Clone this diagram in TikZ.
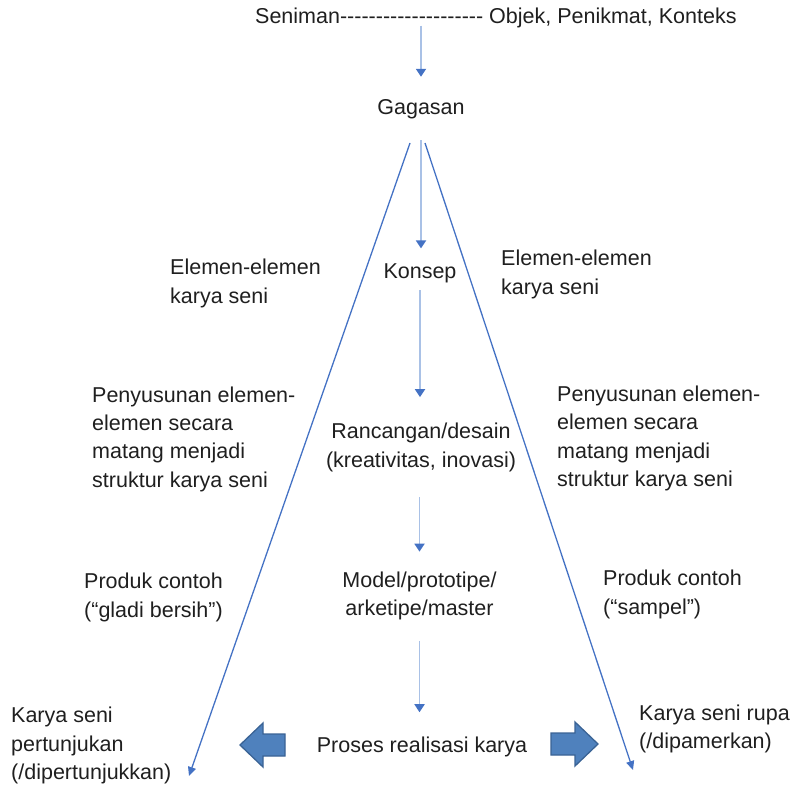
\documentclass[tikz,border=0pt]{standalone}
\usepackage{fontspec}
\setmainfont{Liberation Sans}
\usetikzlibrary{arrows.meta}
\definecolor{linkblue}{HTML}{4472C4}
\definecolor{paleblue}{HTML}{A9C1E6}
\definecolor{blockfill}{HTML}{4F81BD}
\definecolor{blockedge}{HTML}{3A6395}
% a single hyphen that never joins its neighbour into a dash ligature
\newcommand\hh{-\kern0pt}

\begin{document}
\begin{tikzpicture}[x=1pt,y=-1pt,
  every node/.style={font=\fontsize{21.5}{28.3}\selectfont, inner sep=0pt, text=black!88},
  side/.style={align=left, anchor=west},
  stage/.style={align=center},
  varrow/.style={paleblue, line width=1.8pt, -{Triangle[length=8pt,width=10pt,color=linkblue]}},
  darrow/.style={linkblue, line width=1.3pt, -{Triangle[length=9pt,width=8pt]}},
  blockarrow/.style={fill=blockfill, draw=blockedge, line width=1.3pt, line join=miter}
]
\useasboundingbox (0,0) rectangle (797,789);

% header line
\node[anchor=base west] (top) at (255,24)
  {Seniman\hh\hh\hh\hh\hh\hh\hh\hh\hh\hh\hh\hh\hh\hh\hh\hh\hh\hh\hh\hh\ Objek, Penikmat, Konteks};

% central chain of stages
\node[anchor=base] (gagasan) at (421,114) {Gagasan};
\node[anchor=base] (konsep) at (420,278) {Konsep};
\node[stage] (rancangan) at (421,447.5) {Rancangan/desain\\(kreativitas, inovasi)};
\node[stage] (model) at (419.5,596) {Model/prototipe/\\arketipe/master};
\node[anchor=base] (proses) at (422,752) {Proses realisasi karya};

% side notes
\node[side] (elemL) at (170,283.5) {Elemen-elemen\\karya seni};
\node[side] (elemR) at (501,274.5) {Elemen-elemen\\karya seni};
\node[side] (susunL) at (92,439) {Penyusunan elemen-\\elemen secara\\matang menjadi\\struktur karya seni};
\node[side] (susunR) at (557,438.5) {Penyusunan elemen-\\elemen secara\\matang menjadi\\struktur karya seni};
\node[side] (produkL) at (84,597.5) {Produk contoh\\(“gladi bersih”)};
\node[side] (produkR) at (603,594.5) {Produk contoh\\(“sampel”)};
\node[side] (karyaL) at (11,745.5) {Karya seni\\pertunjukan\\(/dipertunjukkan)};
\node[side] (karyaR) at (639,729) {Karya seni rupa\\(/dipamerkan)};

% vertical flow
\draw[varrow, shorten <=-3pt, shorten >=22pt] (gagasan.north |- top.south) -- (gagasan.north);
\draw[varrow, shorten <=21.5pt, shorten >=14.6pt] (gagasan.south) -- (gagasan.south |- konsep.north);
\draw[varrow, shorten <=7.5pt, shorten >=26pt] (konsep.south) -- (konsep.south |- rancangan.north);
\draw[varrow, shorten <=25.5pt, shorten >=20pt] (rancangan.south -| model.north) -- (model.north);
\draw[varrow, shorten <=20.5pt, shorten >=24pt] (model.south) -- (model.south |- proses.north);

% the two branches of the cone
\coordinate (apexL) at ([shift={(-11,29)}]gagasan.base);
\coordinate (apexR) at ([shift={(4,29)}]gagasan.base);
\coordinate (tipL) at (189,776);
\coordinate (tipR) at (633,770);
\draw[darrow] (apexL) -- (tipL);
\draw[darrow] (apexR) -- (tipR);

% block arrows beside the realisation step
\draw[blockarrow] (240,745) -- (263,723) -- (263,734) -- (285,734) -- (285,756) -- (263,756) -- (263,767) -- cycle;
\draw[blockarrow] (598,744) -- (575,722) -- (575,733) -- (551,733) -- (551,755) -- (575,755) -- (575,766) -- cycle;
\end{tikzpicture}
\end{document}
